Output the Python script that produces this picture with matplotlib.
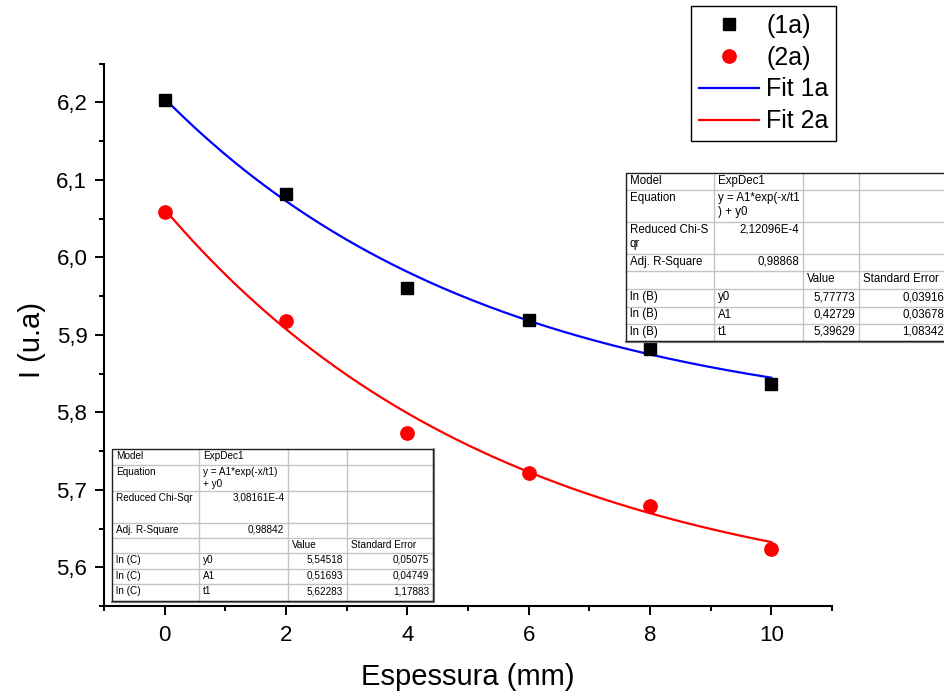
import numpy as np
import matplotlib.pyplot as plt
from matplotlib.patches import Rectangle
from matplotlib.ticker import MultipleLocator, FuncFormatter

plt.rcParams['font.family'] = ['Liberation Sans', 'DejaVu Sans']

# dados
espessura = [0, 2, 4, 6, 8, 10]
i_1a = [6.203, 6.082, 5.961, 5.919, 5.882, 5.837]
i_2a = [6.058, 5.918, 5.773, 5.722, 5.679, 5.623]

# parametros do ajuste ExpDec1: y0, A1, t1
fit_1a = (5.77773, 0.42729, 5.39629)
fit_2a = (5.54518, 0.51693, 5.62283)

tab_b = [
    ['Model', 'ExpDec1', '', ''],
    ['Equation', 'y = A1*exp(-x/t1\n) + y0', '', ''],
    ['Reduced Chi-S\nqr', '2,12096E-4', '', ''],
    ['Adj. R-Square', '0,98868', '', ''],
    ['', '', 'Value', 'Standard Error'],
    ['ln (B)', 'y0', '5,77773', '0,03916'],
    ['ln (B)', 'A1', '0,42729', '0,03678'],
    ['ln (B)', 't1', '5,39629', '1,08342'],
]
tab_c = [
    ['Model', 'ExpDec1', '', ''],
    ['Equation', 'y = A1*exp(-x/t1)\n+ y0', '', ''],
    ['Reduced Chi-Sqr', '3,08161E-4', '', ''],
    ['Adj. R-Square', '0,98842', '', ''],
    ['', '', 'Value', 'Standard Error'],
    ['ln (C)', 'y0', '5,54518', '0,05075'],
    ['ln (C)', 'A1', '0,51693', '0,04749'],
    ['ln (C)', 't1', '5,62283', '1,17883'],
]


def expdec1(x, p):
    y0, a1, t1 = p
    return y0 + a1 * np.exp(-x / t1)


def desenha_tabela(ov, linhas, xs, ys, fs):
    x0, x1, y0, y1 = xs[0], xs[-1], ys[0], ys[-1]
    ov.add_patch(Rectangle((x0, y0), x1 - x0, y1 - y0, fc='white', ec='none', zorder=1))
    for y in ys[1:-1]:
        ov.plot([x0, x1], [y, y], color='#c4c4c4', lw=1.0, zorder=2)
    for x in xs[1:-1]:
        ov.plot([x, x], [y0, y1], color='#c4c4c4', lw=1.0, zorder=2)
    ov.plot([x0, x1], [y1 + 1, y1 + 1], color='#888888', lw=1.6, zorder=3)
    ov.plot([x1 + 1, x1 + 1], [y0, y1 + 1], color='#888888', lw=1.6, zorder=3)
    ov.add_patch(Rectangle((x0, y0), x1 - x0, y1 - y0, fill=False, ec='#202020', lw=1.0, zorder=4))
    for r, linha in enumerate(linhas):
        for c, txt in enumerate(linha):
            if txt == '':
                continue
            if txt[0].isdigit():
                ov.text(xs[c + 1] - 4, ys[r] + 2, txt, ha='right', va='top', fontsize=fs,
                        linespacing=1.25, zorder=5)
            else:
                ov.text(xs[c] + 4, ys[r] + 2, txt, ha='left', va='top', fontsize=fs,
                        linespacing=1.25, zorder=5)


fig = plt.figure(figsize=(9.45, 7.0), dpi=100)
ax = fig.add_axes([104 / 945, 1 - 606 / 700, 728 / 945, 542.3 / 700])

xf = np.linspace(0, 10, 200)
ax.plot(espessura, i_1a, 's', color='black', ms=8.6, label='(1a)', zorder=3)
ax.plot(espessura, i_2a, 'o', color='red', ms=9.6, label='(2a)', zorder=3)
ax.plot(xf, expdec1(xf, fit_1a), color='blue', lw=1.6, label='Fit 1a', zorder=2)
ax.plot(xf, expdec1(xf, fit_2a), color='red', lw=1.6, label='Fit 2a', zorder=2)

ax.set_xlim(-1, 11)
ax.set_ylim(5.55, 6.25)
ax.xaxis.set_major_locator(MultipleLocator(2))
ax.xaxis.set_minor_locator(MultipleLocator(1))
ax.yaxis.set_major_locator(MultipleLocator(0.1))
ax.yaxis.set_minor_locator(MultipleLocator(0.05))
ax.yaxis.set_major_formatter(FuncFormatter(lambda v, p: ('%.1f' % v).replace('.', ',')))

for s in ['top', 'right']:
    ax.spines[s].set_visible(False)
for s in ['left', 'bottom']:
    ax.spines[s].set_linewidth(1.5)
ax.tick_params(which='major', direction='out', length=6.5, width=1.4, labelsize=16)
ax.tick_params(which='minor', direction='out', length=3.5, width=1.4)
ax.tick_params(axis='x', which='major', pad=7)
ax.tick_params(axis='y', which='major', pad=5.5)

ax.set_xlabel('Espessura (mm)', fontsize=21)
ax.set_ylabel('I (u.a)', fontsize=21)
ax.xaxis.set_label_coords(0.5, -0.105)
ax.yaxis.set_label_coords(-0.08, 0.49)

leg = ax.legend(loc='upper right', bbox_to_anchor=(836 / 945, 1 - 6 / 700),
                bbox_transform=fig.transFigure, fontsize=18, numpoints=1,
                fancybox=False, framealpha=1, edgecolor='black', borderaxespad=0,
                borderpad=0.3, labelspacing=0.32, handlelength=2.4, handletextpad=0.3)
leg.get_frame().set_linewidth(1.0)

# tabelas do ajuste (coordenadas em pixels da figura)
ov = fig.add_axes([0, 0, 1, 1], zorder=5)
ov.set_xlim(0, 945)
ov.set_ylim(700, 0)
ov.axis('off')
desenha_tabela(ov, tab_b, [626, 714, 803, 859, 948],
               [172.7, 190, 222, 254, 271, 289, 306.5, 324, 341], 8.3)
desenha_tabela(ov, tab_c, [111.7, 199.3, 288.3, 346.7, 433.3],
               [449, 465, 491, 523, 538, 553, 569, 584, 601], 7.2)

fig.savefig('out.png', dpi=100)
